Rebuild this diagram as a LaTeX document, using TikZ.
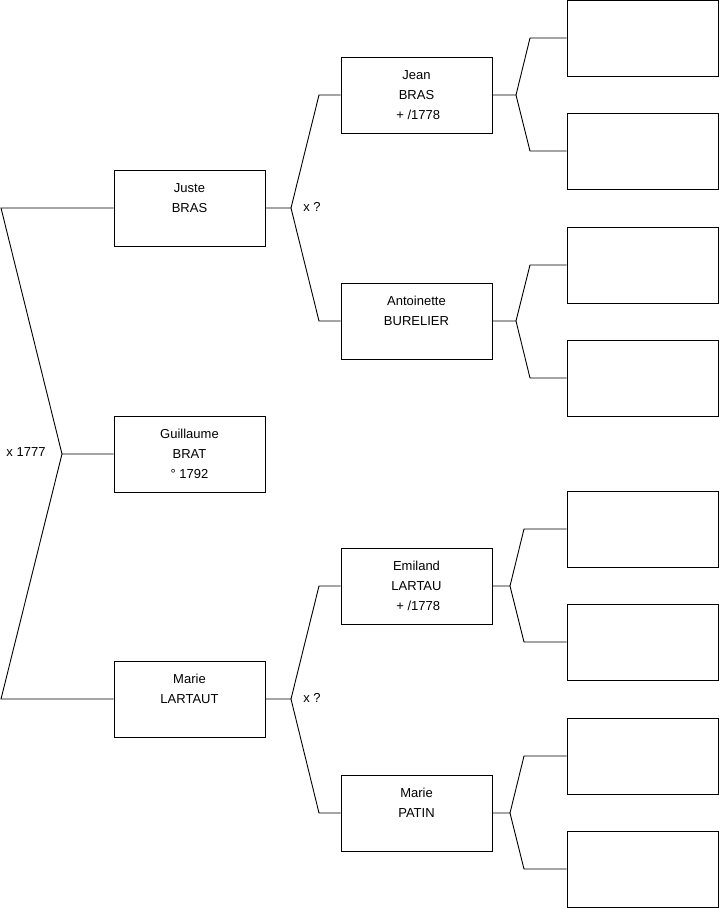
\documentclass[tikz,border=0pt]{standalone}
\usepackage{fontspec}
\setmainfont{Liberation Sans}

\begin{document}
\begin{tikzpicture}[x=1pt, y=-1pt,
        person/.style={rectangle, draw, line width=0.9pt, inner sep=0pt, minimum width=151pt, minimum height=76pt, align=center, font=\fontsize{13}{20}\selectfont},
        union/.style={inner sep=0pt, font=\fontsize{13}{20}\selectfont},
        link/.style={line width=0.9pt}
    ]
    \useasboundingbox (0,0) rectangle (719,908);

        % Nodes: generation 1
        \node[person] (guillaume) at (189.5,454) {Guillaume\\BRAT\\° 1792};
        \node[person] (juste) at (189.5,208) {Juste\\BRAS\\\mbox{}};
        \node[person] (marie) at (189.5,699) {Marie\\LARTAUT\\\mbox{}};

        % Nodes: generation 2
        \node[person] (jean) at (416.5,95) {Jean\\BRAS\\\ + /1778};
        \node[person] (antoinette) at (416.5,321) {Antoinette\\BURELIER\\\mbox{}};
        \node[person] (emiland) at (416.5,586) {Emiland\\LARTAU\\\ + /1778};
        \node[person] (patin) at (416.5,813) {Marie\\PATIN\\\mbox{}};

        % Nodes: generation 3 (empty)
        \node[person] (p1) at (642.5,38) {};
        \node[person] (p2) at (642.5,151) {};
        \node[person] (p3) at (642.5,265) {};
        \node[person] (p4) at (642.5,378) {};
        \node[person] (p5) at (642.5,529) {};
        \node[person] (p6) at (642.5,642) {};
        \node[person] (p7) at (642.5,756) {};
        \node[person] (p8) at (642.5,869) {};

        % Forks and bends
        \coordinate (f0) at (62,454);
        \coordinate (f0a) at (1,208);
        \coordinate (f0b) at (1,699);
        \coordinate (f1) at (291,208);
        \coordinate (f1a) at (319,95);
        \coordinate (f1b) at (319,321);
        \coordinate (f2) at (291,699);
        \coordinate (f2a) at (319,586);
        \coordinate (f2b) at (319,813);
        \coordinate (f3) at (516,95);
        \coordinate (f3a) at (530,38);
        \coordinate (f3b) at (530,151);
        \coordinate (f4) at (516,321);
        \coordinate (f4a) at (530,265);
        \coordinate (f4b) at (530,378);
        \coordinate (f5) at (510,586);
        \coordinate (f5a) at (524,529);
        \coordinate (f5b) at (524,642);
        \coordinate (f6) at (510,813);
        \coordinate (f6a) at (524,756);
        \coordinate (f6b) at (524,869);

        % Marriage labels
        \node[union] (m0) at (26,452) {x 1777};
        \node[union] (m1) at (312,207) {x ?};
        \node[union] (m2) at (312,698) {x ?};

        % Paths: parents
        \draw[link] (guillaume.west) -- (f0) -- (f0a) -- (juste.west);
        \draw[link] (f0) -- (f0b) -- (marie.west);

        \draw[link] (juste.east) -- (f1) -- (f1a) -- (jean.west);
        \draw[link] (f1) -- (f1b) -- (antoinette.west);

        \draw[link] (marie.east) -- (f2) -- (f2a) -- (emiland.west);
        \draw[link] (f2) -- (f2b) -- (patin.west);

        % Paths: grandparents
        \draw[link] (jean.east) -- (f3) -- (f3a) -- (p1.west);
        \draw[link] (f3) -- (f3b) -- (p2.west);
        \draw[link] (antoinette.east) -- (f4) -- (f4a) -- (p3.west);
        \draw[link] (f4) -- (f4b) -- (p4.west);
        \draw[link] (emiland.east) -- (f5) -- (f5a) -- (p5.west);
        \draw[link] (f5) -- (f5b) -- (p6.west);
        \draw[link] (patin.east) -- (f6) -- (f6a) -- (p7.west);
        \draw[link] (f6) -- (f6b) -- (p8.west);

    \end{tikzpicture}
\end{document}
